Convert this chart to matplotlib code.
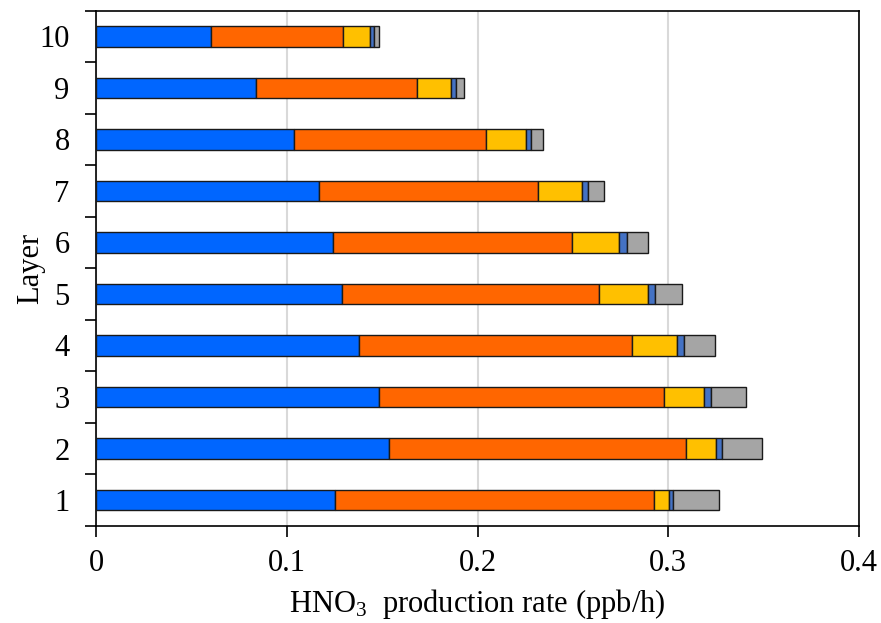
import numpy as np
import matplotlib.pyplot as plt

plt.rcParams['font.family'] = ['Liberation Serif', 'DejaVu Serif']
plt.rcParams['mathtext.default'] = 'regular'

# Daten ablesen aus dem Bild (Segmentbreiten, ppb/h)
layers = np.arange(1, 11)
seg1 = [0.1251, 0.1535, 0.1483, 0.1377, 0.1289, 0.1243, 0.1170, 0.1038, 0.0837, 0.0601]
seg2 = [0.1674, 0.1559, 0.1494, 0.1431, 0.1349, 0.1250, 0.1148, 0.1005, 0.0848, 0.0694]
seg3 = [0.0080, 0.0159, 0.0211, 0.0239, 0.0256, 0.0251, 0.0229, 0.0210, 0.0178, 0.0141]
seg4 = [0.0021, 0.0031, 0.0035, 0.0037, 0.0039, 0.0038, 0.0033, 0.0029, 0.0026, 0.0023]
seg5 = [0.0239, 0.0206, 0.0183, 0.0162, 0.0140, 0.0112, 0.0085, 0.0060, 0.0038, 0.0025]

segments = [seg1, seg2, seg3, seg4, seg5]
colors = ['#0066FF', '#FF6600', '#FFC000', '#4472C4', '#A5A5A5']

fig = plt.figure(figsize=(8.81, 6.23), dpi=100)
ax = fig.add_axes([0.109, 0.156, 0.866, 0.827])

left = np.zeros(len(layers))
for vals, c in zip(segments, colors):
    ax.barh(layers, vals, left=left, height=0.4, color=c,
            edgecolor='#1a1a1a', linewidth=1.0, zorder=3)
    left += np.array(vals)

ax.set_xlim(0, 0.4)
ax.set_ylim(0.5, 10.5)
ax.set_xticks([0, 0.1, 0.2, 0.3, 0.4])
ax.set_xticklabels(['0', '0.1', '0.2', '0.3', '0.4'])
ax.set_yticks(layers)
ax.set_yticks(np.arange(0.5, 11, 1), minor=True)
ax.grid(axis='x', color='#D9D9D9', linewidth=1.5, zorder=0)

ax.tick_params(axis='x', direction='out', length=8, width=1.2, pad=9, labelsize=22)
ax.tick_params(axis='y', which='major', length=0, pad=19, labelsize=22)
ax.tick_params(axis='y', which='minor', direction='out', length=8, width=1.2)
for s in ax.spines.values():
    s.set_linewidth(1.2)

ax.set_xlabel('HNO$_3$  production rate (ppb/h)', fontsize=22, labelpad=6)
ax.set_ylabel('Layer', fontsize=22, labelpad=-4)

fig.savefig('out.png', dpi=100)
